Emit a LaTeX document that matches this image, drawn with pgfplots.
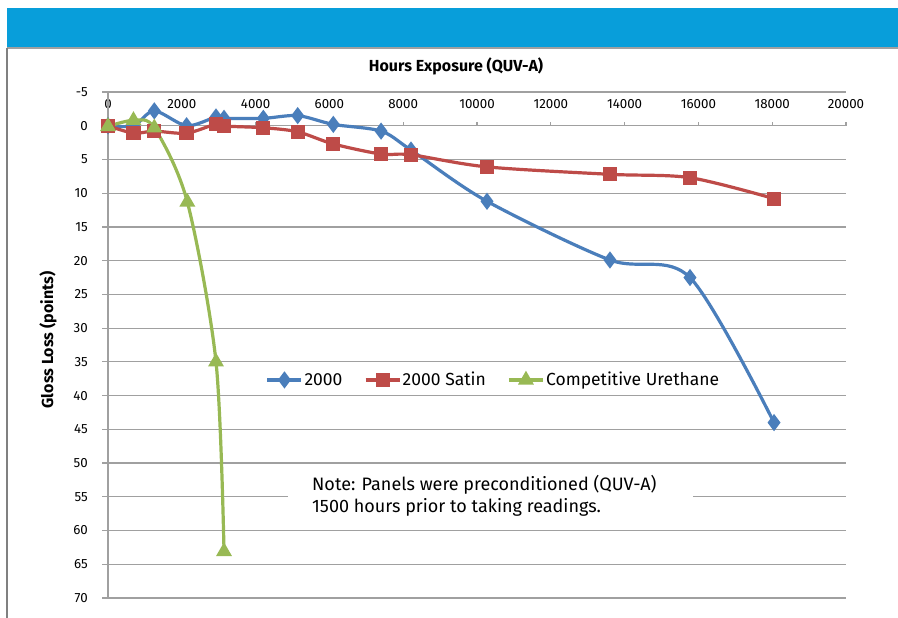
\documentclass[border=0pt]{standalone}
\usepackage{fontspec}
\setmainfont{Fira Sans}
\usepackage{pgfplots}
\pgfplotsset{compat=1.18}
\definecolor{bannerblue}{RGB}{8,158,218}
\definecolor{gridgray}{RGB}{160,160,160}
\definecolor{cblue}{RGB}{74,126,187}
\definecolor{cred}{RGB}{190,75,72}
\definecolor{cgreen}{RGB}{152,185,84}
\begin{document}
\begin{tikzpicture}
\path[use as bounding box] (0,0) rectangle (898bp,618bp);
\fill[white] (0,0) rectangle (898bp,618bp);
\fill[bannerblue] (7bp,570bp) rectangle (898bp,610bp);
\draw[gridgray, line width=1.2bp] (7bp,570bp) -- (898bp,570bp);
\draw[gray, line width=1.2bp] (7bp,0) -- (7bp,570bp);
\begin{axis}[
  at={(108bp,20bp)}, anchor=south west,
  scale only axis, width=738bp, height=506bp,
  xmin=0, xmax=20000, ymin=-5, ymax=70,
  y dir=reverse,
  xtick={0,2000,...,20000},
  ytick={-5,0,...,70},
  scaled x ticks=false,
  axis line style={draw=none},
  major tick length=0pt,
  ymajorgrids,
  grid style={gridgray, line width=1.2bp},
  xticklabel pos=upper,
  /pgf/number format/assume math mode=true,
  /pgf/number format/set thousands separator={},
  xticklabel style={anchor=center, inner sep=0pt, yshift=-12bp, font=\fontsize{13.3bp}{15bp}\selectfont},
  yticklabel style={anchor=east, inner sep=0pt, xshift=-20bp, font=\fontsize{13.3bp}{15bp}\selectfont},
  clip=false,
  legend columns=3,
  legend style={at={(axis description cs:0.522,0.431)}, anchor=center, draw=none, fill=none,
    font=\fontsize{17.5bp}{20bp}\selectfont,
    nodes={inner sep=1.5bp},
    /tikz/every even column/.append style={column sep=20bp}},
  legend image code/.code={\draw[mark repeat=2,mark phase=2,#1] plot coordinates {(0bp,0bp) (17bp,0bp) (34bp,0bp)};},
]
\draw[gridgray, line width=1.2bp] (axis cs:0,-5) -- (axis cs:0,70);
\pgfplotsinvokeforeach{-5,0,5,10,15,20,25,30,35,40,45,50,55,60,65,70}{
  \draw[gridgray, line width=1.2bp] (axis cs:0,#1) -- ([xshift=-6bp]axis cs:0,#1);
}
\pgfplotsinvokeforeach{2000,4000,6000,8000,10000,12000,14000,16000,18000,20000}{
  \draw[gridgray, line width=1.2bp] (axis cs:#1,0) -- ([yshift=4bp]axis cs:#1,0);
}
\addplot[cblue, line width=3.2bp, smooth, mark=diamond*, mark size=6bp,
  mark options={solid}] coordinates {
  (0,0) (690,0) (1255,-2.2) (2130,0) (2927,-1.3) (3144,-1.1) (4210,-1.1)
  (5140,-1.5) (6106,-0.2) (7400,0.8) (8211,3.6) (10271,11.2) (13604,19.9)
  (15772,22.5) (18049,44.0)};
\addlegendentry{2000}
\addplot[cred, line width=3.2bp, smooth, mark=square*, mark size=5.5bp] coordinates {
  (0,0) (690,1.1) (1255,0.8) (2130,1.1) (2927,-0.25) (3144,0.05) (4210,0.3)
  (5140,0.9) (6106,2.7) (7400,4.2) (8211,4.3) (10271,6.1) (13604,7.2)
  (15772,7.7) (18049,10.8)};
\addlegendentry{2000 Satin}
\addplot[cgreen, line width=3.2bp, smooth, mark=triangle*, mark size=6bp] coordinates {
  (0,0.1) (690,-0.8) (1255,0.3) (2150,11.3) (2927,35.0) (3144,63.1)};
\addlegendentry{Competitive Urethane}
\end{axis}
\fill[white] (288bp,98bp) rectangle (693bp,146bp);
\node[anchor=west, align=left, inner sep=0pt, font=\fontsize{18bp}{22bp}\selectfont] at (312bp,122bp)
  {Note: Panels were preconditioned (QUV-A)\\1500 hours prior to taking readings.};
\node[font=\bfseries\fontsize{16bp}{18bp}\selectfont] at (456bp,552bp) {Hours Exposure (QUV-A)};
\node[rotate=90, font=\bfseries\fontsize{16bp}{18bp}\selectfont] at (48bp,278bp) {Gloss Loss (points)};
\end{tikzpicture}
\end{document}
